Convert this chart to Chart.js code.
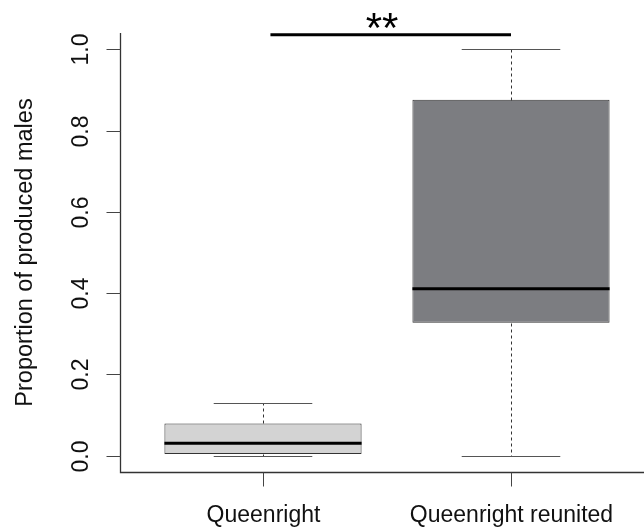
<!DOCTYPE html>
<html>
<head>
<meta charset="utf-8">
<script src="https://cdn.jsdelivr.net/npm/chart.js@4.4.1/dist/chart.umd.min.js"></script>
<style>
  html, body { margin: 0; padding: 0; background: #fff; }
  canvas { display: block; }
</style>
</head>
<body>
<canvas id="boxChart" width="644" height="527"></canvas>
<script>
// data
const groups = ['Queenright', 'Queenright reunited'];
const whiskerLow = [0, 0];
const q1 = [0.004, 0.327];
const medians = [0.031, 0.411];
const q3 = [0.0795, 0.876];
const whiskerHigh = [0.129, 1.0];
const boxColors = ['#d3d3d3', '#7c7d81'];

const yTicks = [0, 0.2, 0.4, 0.6, 0.8, 1.0];
const yTickLabels = ['0.0', '0.2', '0.4', '0.6', '0.8', '1.0'];
const yTitle = 'Proportion of produced males';

// significance bracket (box positions are 1-based, like in R)
const sigFrom = 1.03;
const sigTo = 2.0;
const sigLevel = 1.036;
const sigTextPos = 1.48;
const sigTextLevel = 1.06;
const sigLabel = '**';

const FONT = '"Liberation Sans", Arial, Helvetica, sans-serif';

const boxplotExtras = {
  id: 'boxplotExtras',
  afterDatasetsDraw(chart) {
    const ctx = chart.ctx;
    const x = chart.scales.x, y = chart.scales.y;
    const meta = chart.getDatasetMeta(0);
    const step = x.getPixelForValue(1) - x.getPixelForValue(0);
    const posPx = p => x.getPixelForValue(0) + (p - 1) * step;
    const py = v => Math.round(y.getPixelForValue(v)) + 0.5;

    ctx.save();
    meta.data.forEach((bar, i) => {
      const cx = Math.round(bar.x) + 0.5;
      const half = bar.width / 2;
      // dashed whiskers
      ctx.strokeStyle = '#333';
      ctx.lineWidth = 1;
      ctx.setLineDash([3, 3]);
      ctx.beginPath();
      ctx.moveTo(cx, py(q3[i])); ctx.lineTo(cx, py(whiskerHigh[i]));
      ctx.moveTo(cx, py(q1[i])); ctx.lineTo(cx, py(whiskerLow[i]));
      ctx.stroke();
      ctx.setLineDash([]);
      // staples
      ctx.strokeStyle = '#555';
      ctx.beginPath();
      ctx.moveTo(bar.x - half / 2, py(whiskerHigh[i])); ctx.lineTo(bar.x + half / 2, py(whiskerHigh[i]));
      ctx.moveTo(bar.x - half / 2, py(whiskerLow[i])); ctx.lineTo(bar.x + half / 2, py(whiskerLow[i]));
      ctx.stroke();
      // median
      ctx.strokeStyle = '#000';
      ctx.lineWidth = 3;
      ctx.beginPath();
      ctx.moveTo(bar.x - half, y.getPixelForValue(medians[i]));
      ctx.lineTo(bar.x + half, y.getPixelForValue(medians[i]));
      ctx.stroke();
    });

    // L-shaped axes like bty="l"
    const axisX = Math.round(x.getPixelForValue(0) - 0.575 * step) + 0.5;
    const axisY = Math.round(chart.chartArea.bottom) + 0.5;
    ctx.strokeStyle = '#333';
    ctx.lineWidth = 1.3;
    ctx.beginPath();
    ctx.moveTo(axisX, Math.round(chart.chartArea.top));
    ctx.lineTo(axisX, axisY);
    ctx.lineTo(chart.width, axisY);
    ctx.stroke();

    // y ticks and rotated labels
    ctx.lineWidth = 1;
    ctx.strokeStyle = '#444';
    ctx.fillStyle = '#111';
    ctx.font = '23px ' + FONT;
    yTicks.forEach((v, i) => {
      const ty = py(v);
      ctx.beginPath();
      ctx.moveTo(axisX - 14, ty); ctx.lineTo(axisX, ty);
      ctx.stroke();
      ctx.save();
      ctx.translate(88, ty);
      ctx.rotate(-Math.PI / 2);
      ctx.textAlign = 'center';
      ctx.textBaseline = 'alphabetic';
      ctx.fillText(yTickLabels[i], 0, 0);
      ctx.restore();
    });

    // x ticks and labels
    groups.forEach((g, i) => {
      const tx = Math.round(x.getPixelForValue(i)) + 0.5;
      ctx.beginPath();
      ctx.moveTo(tx, axisY); ctx.lineTo(tx, axisY + 14);
      ctx.stroke();
      ctx.textAlign = 'center';
      ctx.textBaseline = 'alphabetic';
      ctx.fillText(g, tx, 522);
    });

    // y axis title
    ctx.save();
    ctx.font = '23.5px ' + FONT;
    ctx.translate(32, (chart.chartArea.top + chart.chartArea.bottom) / 2);
    ctx.rotate(-Math.PI / 2);
    ctx.textAlign = 'center';
    ctx.fillText(yTitle, 0, 0);
    ctx.restore();

    // significance bar
    ctx.strokeStyle = '#000';
    ctx.lineWidth = 3;
    ctx.beginPath();
    ctx.moveTo(posPx(sigFrom), y.getPixelForValue(sigLevel));
    ctx.lineTo(posPx(sigTo), y.getPixelForValue(sigLevel));
    ctx.stroke();
    ctx.font = '42px ' + FONT;
    ctx.textAlign = 'center';
    ctx.textBaseline = 'alphabetic';
    ctx.fillStyle = '#000';
    ctx.fillText(sigLabel, posPx(sigTextPos), y.getPixelForValue(sigTextLevel) + 17);
    ctx.restore();
  }
};

new Chart(document.getElementById('boxChart'), {
  type: 'bar',
  data: {
    labels: groups,
    datasets: [{
      data: groups.map((g, i) => [q1[i], q3[i]]),
      backgroundColor: boxColors,
      borderColor: '#333',
      borderWidth: 1,
      borderSkipped: false,
      barPercentage: 0.795,
      categoryPercentage: 1
    }]
  },
  options: {
    responsive: false,
    animation: false,
    devicePixelRatio: 1,
    layout: { padding: { left: 139, right: 9, top: 33, bottom: 55 } },
    plugins: { legend: { display: false }, tooltip: { enabled: false } },
    scales: {
      x: { type: 'category', offset: true, display: false },
      y: { min: -0.04, max: 1.04, display: false }
    }
  },
  plugins: [boxplotExtras]
});
</script>
</body>
</html>
